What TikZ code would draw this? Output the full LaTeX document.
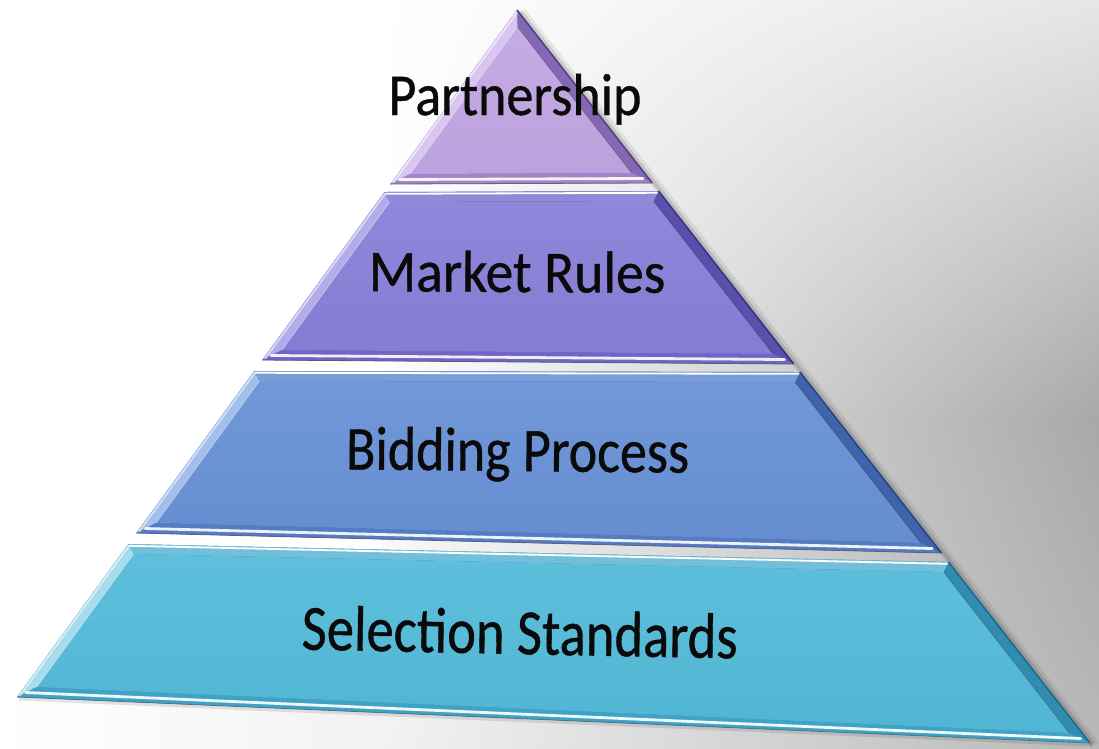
\documentclass[tikz,border=0pt]{standalone}
\usepackage{fontspec}
\setmainfont{Carlito}
\newfontfamily\lblfont[FakeBold=0.7]{Carlito}
\usetikzlibrary{calc,shadings}
\definecolor{bgA}{HTML}{E6E6E6}
\definecolor{bgB}{HTML}{A8A8A8}
\definecolor{bgC}{HTML}{F2F2F2}
\definecolor{bgD}{HTML}{B8B8B8}
% Partnership
\definecolor{pFace}{HTML}{C2A6E3}
\definecolor{pLight}{HTML}{D8C6F0}
\definecolor{pMid}{HTML}{A084CC}
\definecolor{pDark}{HTML}{8468B4}
\definecolor{pEdge}{HTML}{54407E}
% Market Rules
\definecolor{mFace}{HTML}{897FD9}
\definecolor{mLight}{HTML}{B2ACEA}
\definecolor{mMid}{HTML}{7066C4}
\definecolor{mDark}{HTML}{5A50AC}
\definecolor{mEdge}{HTML}{383282}
% Bidding Process
\definecolor{bFace}{HTML}{6891D6}
\definecolor{bLight}{HTML}{A2BEEA}
\definecolor{bMid}{HTML}{557BC4}
\definecolor{bDark}{HTML}{4064AC}
\definecolor{bEdge}{HTML}{284682}
% Selection Standards
\definecolor{sFace}{HTML}{53BBD9}
\definecolor{sLight}{HTML}{A6DCEC}
\definecolor{sMid}{HTML}{40A2C6}
\definecolor{sDark}{HTML}{328CB0}
\definecolor{sEdge}{HTML}{1F6A88}
% outer edges of the pyramid: left x(y)=517-0.7278(y-10), right x(y)=517+0.7817(y-10)
\newcommand\bevelw{10}
\newcommand\setlayer[8]{%
  \coordinate (TL) at ({517-0.7278*(#1-10)},#1);
  \coordinate (TR) at ({517+0.7817*(#2-10)},#2);
  \coordinate (BR) at ({517+0.7817*(#3-10)},#3);
  \coordinate (BL) at ({517-0.7278*(#4-10)},#4);
  \coordinate (tl) at ({517-0.7278*(#5-10)+1.2375*\bevelw},#5);
  \coordinate (tr) at ({517+0.7817*(#6-10)-1.269*\bevelw},#6);
  \coordinate (br) at ({517+0.7817*(#7-10)-1.269*\bevelw},#7);
  \coordinate (bl) at ({517-0.7278*(#8-10)+1.2375*\bevelw},#8);
}
\newcommand\pyrlayer[5]{%
  \fill[#4] (TL) -- (TR) -- (BR) -- (BL) -- cycle;
  \fill[#2] (TL) -- (tl) -- (bl) -- (BL) -- cycle;
  \fill[#3] (BL) -- (bl) -- (br) -- (BR) -- cycle;
  \fill[#2!50!#3] (TL) -- (TR) -- (tr) -- (tl) -- cycle;
  \shade[top color=#1!94!white, bottom color=#1!97!black] (tl) -- (tr) -- (br) -- (bl) -- cycle;
  \draw[#4!70!black, line width=0.8pt, opacity=0.6] (tr) -- (br);
  \draw[#2!60!white, line width=0.8pt, opacity=0.8] (tl) -- (bl);
  \draw[white!80!#2, line width=2.8pt, line cap=round] ($(BL)!0.45!(bl)$) -- ($(BR)!0.45!(br)$);
  \draw[white, line width=1.8pt] ($(TL)!0.18!(tl)$) -- ($(TR)!0.18!(tr)$);
  \draw[white!55!#2, line width=1.6pt] ($(TL)!0.15!(tl)$) -- ($(BL)!0.15!(bl)$);
  \draw[#5, line width=1.6pt] (TR) -- (BR);
  \draw[#5!50!gray, line width=0.8pt] (BL) -- (BR);
}
\tikzset{
  lbl/.style={anchor=base, inner sep=0pt, text=black!96},
}
\begin{document}
\begin{tikzpicture}[x=1pt,y=-1pt]
\useasboundingbox (0,0) rectangle (1099,748);
% background
\fill[white] (0,0) rectangle (1099,748);
\shade[upper left=white, upper right=bgA, lower left=white, lower right=bgB] (380,0) rectangle (1099,420);
\shade[upper left=white, upper right=bgB, lower left=bgC, lower right=bgD] (380,420) rectangle (1099,748);
\shade[left color=white, right color=bgC] (0,690) rectangle (380.5,748);
% outline points
\coordinate (apex) at (517,10);
\coordinate (baseR) at (1090,743);
\coordinate (baseL) at (17,697);
% soft shadow along the right edge and the base
\draw[black, opacity=0.07, line width=9pt] ($(apex)+(5,2)$) -- ($(baseR)+(5,2)$);
\draw[black, opacity=0.12, line width=4pt] ($(apex)+(3,1)$) -- ($(baseR)+(3,1)$);
\draw[black, opacity=0.10, line width=3pt] ($(baseL)+(2,2)$) -- ($(baseR)+(2,2)$);
% layer 1: Partnership
\setlayer{10}{10}{183}{184}{26.6}{26.6}{173}{174}
\pyrlayer{pFace}{pLight}{pMid}{pDark}{pEdge}
% layer 2: Market Rules
\setlayer{192}{191}{364}{360}{202}{201}{354}{350}
\pyrlayer{mFace}{mLight}{mMid}{mDark}{mEdge}
% layer 3: Bidding Process
\setlayer{371}{372}{553}{533}{381}{382}{543}{523}
\pyrlayer{bFace}{bLight}{bMid}{bDark}{bEdge}
% layer 4: Selection Standards
\setlayer{544}{562}{743}{697}{554}{572}{733}{687}
\pyrlayer{sFace}{sLight}{sMid}{sDark}{sEdge}
% labels
\node[lbl, font=\lblfont\fontsize{54}{60}\selectfont, yscale=1.1] (partnership) at (515,115) {Partnership};
\node[lbl, font=\lblfont\fontsize{55.5}{62}\selectfont, yscale=1.07, rotate=-0.3] (market) at (517,292) {Market Rules};
\node[lbl, font=\lblfont\fontsize{54}{60}\selectfont, yscale=1.15, rotate=-0.5] (bidding) at (517.5,471) {Bidding Process};
\node[lbl, font=\lblfont\fontsize{54.6}{60}\selectfont, yscale=1.18, rotate=-1.0] (selection) at (519.5,654) {Selection Standards};
\end{tikzpicture}
\end{document}
